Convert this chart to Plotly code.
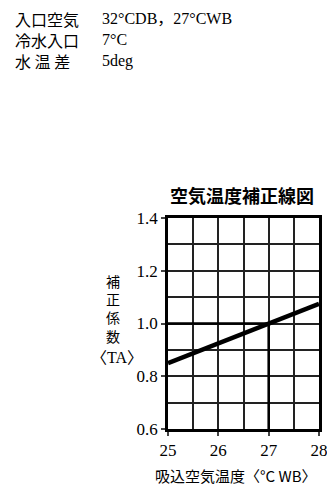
import plotly.graph_objects as go

# correction line (air temperature correction factor)
wb_temp = [25, 28]
factor = [0.85, 1.075]

# reading guide at design point 27 CWB -> 1.0
guide_x = [25, 27, 27]
guide_y = [1.0, 1.0, 0.6]

x_ticks = [25, 26, 27, 28]
y_ticks = [0.6, 0.8, 1.0, 1.2, 1.4]

header_labels = ["入口空気", "冷水入口", "水 温 差"]
header_values = ["32°CDB，27°CWB", "7°C", "5deg"]
y_title_chars = ["補", "正", "係", "数"]

SERIF = "Liberation Serif, Noto Sans CJK JP, serif"
CJK = "Noto Sans CJK JP, sans-serif"

# page body has an 8px margin, so work in window pixels and shift
OFF = 8
W, H = 335 - OFF, 488 - OFF
L, R, T, B = 168 - OFF, 7, 218 - OFF, 59
PW, PH = W - L - R, H - T - B


def px(x):
    return (x - OFF - L) / PW


def py(y):
    return (H - B - (y - OFF)) / PH


fig = go.Figure()
fig.add_trace(go.Scatter(x=guide_x, y=guide_y, mode="lines",
                         line=dict(color="black", width=2.5), hoverinfo="skip"))
fig.add_trace(go.Scatter(x=wb_temp, y=factor, mode="lines",
                         line=dict(color="black", width=4.5)))

ann = [
    dict(x=px(4), y=py(40), text="<br>".join(header_labels), xanchor="left",
         yanchor="middle", align="left", font=dict(family=CJK, size=16, color="black")),
    dict(x=px(96), y=py(40), text="<br>".join(header_values), xanchor="left",
         yanchor="middle", align="left", font=dict(family=SERIF, size=16, color="black")),
    dict(x=px(246), y=py(195), text="<b>空気温度補正線図</b>",
         xanchor="center", yanchor="middle",
         font=dict(family=CJK, size=18, color="black")),
    dict(x=px(110), y=py(308), text="<br>".join(y_title_chars),
         xanchor="center", yanchor="middle",
         font=dict(family=CJK, size=14, color="black")),
    dict(x=px(114), y=py(357), text="〈TA〉", xanchor="center", yanchor="middle",
         font=dict(family=SERIF, size=16, color="black")),
    dict(x=px(152), y=py(475), text="吸込空気温度〈°C WB〉",
         xanchor="left", yanchor="middle",
         font=dict(family=CJK, size=15, color="black")),
]
for a in ann:
    a.update(xref="paper", yref="paper", showarrow=False)

fig.update_layout(
    width=W, height=H,
    margin=dict(l=L, r=R, t=T, b=B, pad=0),
    paper_bgcolor="white", plot_bgcolor="white",
    showlegend=False,
    annotations=ann,
    font=dict(family=SERIF, size=16, color="black"),
)
fig.update_xaxes(
    range=[25, 28], tickvals=x_ticks, ticks="outside", ticklen=4, tickwidth=2,
    showgrid=True, gridcolor="#222", gridwidth=1.5,
    minor=dict(dtick=0.5, tick0=25, showgrid=True, gridcolor="#222", gridwidth=1.5),
    showline=True, linecolor="black", linewidth=2.5, mirror=True,
    zeroline=False, tickfont=dict(family=SERIF, size=17),
)
fig.update_yaxes(
    range=[0.6, 1.4], tickvals=y_ticks, tickformat=".1f", ticks="outside", ticklen=4,
    tickwidth=2, showgrid=True, gridcolor="#222", gridwidth=1.5,
    minor=dict(dtick=0.1, tick0=0.6, showgrid=True, gridcolor="#222", gridwidth=1.5),
    showline=True, linecolor="black", linewidth=2.5, mirror=True,
    zeroline=False, tickfont=dict(family=SERIF, size=17),
)

fig.write_html("out.html")
